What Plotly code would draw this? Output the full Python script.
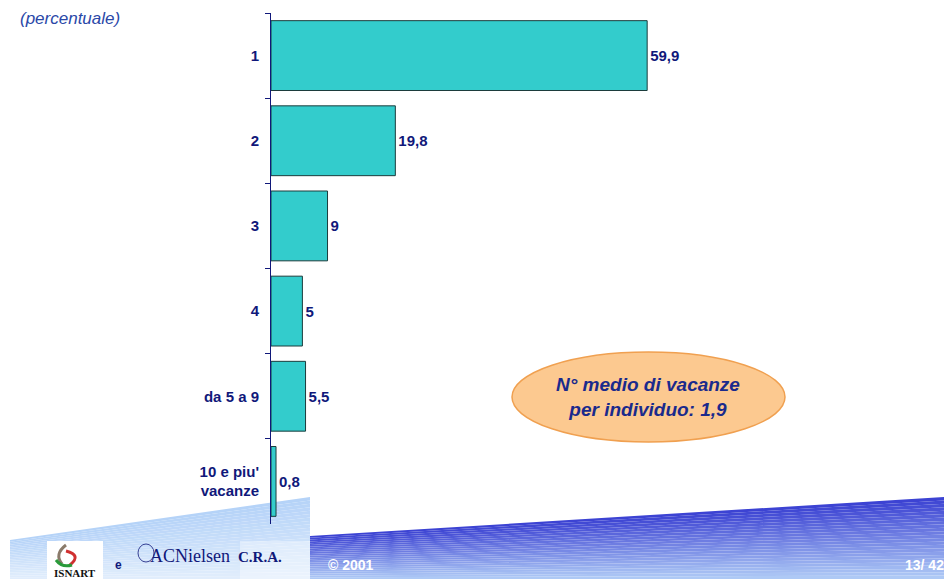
import plotly.graph_objects as go

categories = ["1", "2", "3", "4", "da 5 a 9", "10 e piu'<br>vacanze"]
values = [59.9, 19.8, 9, 5, 5.5, 0.8]
value_labels = ["59,9", "19,8", "9", "5", "5,5", "0,8"]

# page body keeps an 8px margin, so the figure is drawn 8px in from the window
OFF = 8
W, H = 952 - OFF, 579 - OFF
NAVY = "#10187a"


def px(x):
    return (x - OFF) / W


def py(y):
    return 1 - (y - OFF) / H


def lerp_color(c0, c1, f):
    a = [int(c0[i:i + 2], 16) for i in (1, 3, 5)]
    b = [int(c1[i:i + 2], 16) for i in (1, 3, 5)]
    return "rgb(%d,%d,%d)" % tuple(round(a[k] + (b[k] - a[k]) * f) for k in range(3))


def band_shapes(x0, x1, ytop0, ytop1, ybot, c_top, c_bot, n=24):
    shapes = []
    for i in range(n):
        f0, f1 = i / n, (i + 1) / n
        ya0 = ytop0 + f0 * (ybot - ytop0)
        yb0 = ytop1 + f0 * (ybot - ytop1)
        ya1 = ytop0 + f1 * (ybot - ytop0)
        yb1 = ytop1 + f1 * (ybot - ytop1)
        path = "M %f %f L %f %f L %f %f L %f %f Z" % (
            px(x0), py(ya0), px(x1), py(yb0), px(x1), py(yb1), px(x0), py(ya1))
        shapes.append(dict(type="path", path=path, xref="paper", yref="paper",
                           fillcolor=lerp_color(c_top, c_bot, (f0 + f1) / 2),
                           line=dict(width=0), layer="below"))
    return shapes


def note(text, x, y, size, color, xanchor="center", family="Arial", **style):
    return dict(text=text, x=px(x), y=py(y), xref="paper", yref="paper",
                xanchor=xanchor, yanchor="middle", showarrow=False, align="center",
                font=dict(family=family, size=size, color=color, **style))


fig = go.Figure()

fig.add_trace(go.Bar(
    y=categories,
    x=values,
    orientation="h",
    width=0.82,
    marker=dict(color="#33CCCC", line=dict(color="#1c3c3c", width=1)),
    text=value_labels,
    textposition="outside",
    textfont=dict(family="Arial", size=15, color=NAVY, weight="bold"),
    cliponaxis=False,
    hoverinfo="skip",
))

shapes = []
# footer decoration
shapes += band_shapes(10, 310, 540, 497, 579, "#b4d2f8", "#e2eefc")
shapes += band_shapes(310, 960, 536, 496, 579, "#3a40d2", "#b0ccf6")
shapes.append(dict(type="rect", xref="paper", yref="paper",
                   x0=px(240), x1=px(310), y0=py(579), y1=py(541),
                   fillcolor="rgba(255,255,255,0.35)", line=dict(width=0), layer="below"))
# ISNART logo box
shapes.append(dict(type="rect", xref="paper", yref="paper",
                   x0=px(47), x1=px(103), y0=py(579), y1=py(541),
                   fillcolor="white", line=dict(width=0), layer="below"))
shapes.append(dict(type="path", xref="paper", yref="paper",
                   path="M %f %f Q %f %f %f %f" % (px(66), py(545), px(54), py(554), px(62), py(564)),
                   line=dict(color="#8a7a6a", width=3), layer="below"))
shapes.append(dict(type="path", xref="paper", yref="paper",
                   path="M %f %f Q %f %f %f %f" % (px(66), py(551), px(82), py(555), px(70), py(565)),
                   line=dict(color="#d03030", width=3), layer="below"))
shapes.append(dict(type="path", xref="paper", yref="paper",
                   path="M %f %f Q %f %f %f %f" % (px(56), py(560), px(62), py(568), px(72), py(565)),
                   line=dict(color="#2a9a3a", width=3), layer="below"))
# ACNielsen globe
shapes.append(dict(type="circle", xref="paper", yref="paper",
                   x0=px(138), x1=px(154), y0=py(562), y1=py(544),
                   line=dict(color=NAVY, width=0.8), layer="below"))
# ellipse
shapes.append(dict(type="circle", xref="paper", yref="paper",
                   x0=px(512), x1=px(785), y0=py(442), y1=py(352),
                   fillcolor="#fcc990", line=dict(color="#f0a050", width=1.5)))

annotations = [
    note("(percentuale)", 18, 18, 17, "#2a48a8", xanchor="left", style="italic"),
    note("N° medio di vacanze<br>per individuo: 1,9", 648, 397, 19, "#1a2a8c",
         weight="bold", style="italic"),
    note("ISNART", 75, 573, 11, "#111111", family="Liberation Serif", weight="bold"),
    note("e", 118, 565, 12, NAVY, weight="bold"),
    note("ACNielsen", 148, 556, 18, NAVY, xanchor="left", family="Liberation Serif"),
    note("C.R.A.", 236, 557, 15, NAVY, xanchor="left", family="Liberation Serif", weight="bold"),
    note("© 2001", 326, 565, 14, "white", xanchor="left", weight="bold"),
    note("13/ 42", 903, 565, 14, "white", xanchor="left", weight="bold"),
]

fig.update_layout(
    width=W,
    height=H,
    margin=dict(l=0, r=0, t=0, b=0),
    paper_bgcolor="white",
    plot_bgcolor="rgba(0,0,0,0)",
    showlegend=False,
    shapes=shapes,
    annotations=annotations,
    xaxis=dict(domain=[px(271), 1], range=[0, (952 - 271) / 6.28], visible=False, fixedrange=True),
    yaxis=dict(
        domain=[py(524), py(13)],
        autorange="reversed",
        automargin=False,
        showline=True,
        linecolor=NAVY,
        linewidth=1,
        ticks="outside",
        tickson="boundaries",
        ticklen=5,
        tickcolor=NAVY,
        ticklabelstandoff=8,
        showgrid=False,
        zeroline=False,
        tickfont=dict(family="Arial", size=15, color=NAVY, weight="bold"),
    ),
)

fig.write_html("out.html")
